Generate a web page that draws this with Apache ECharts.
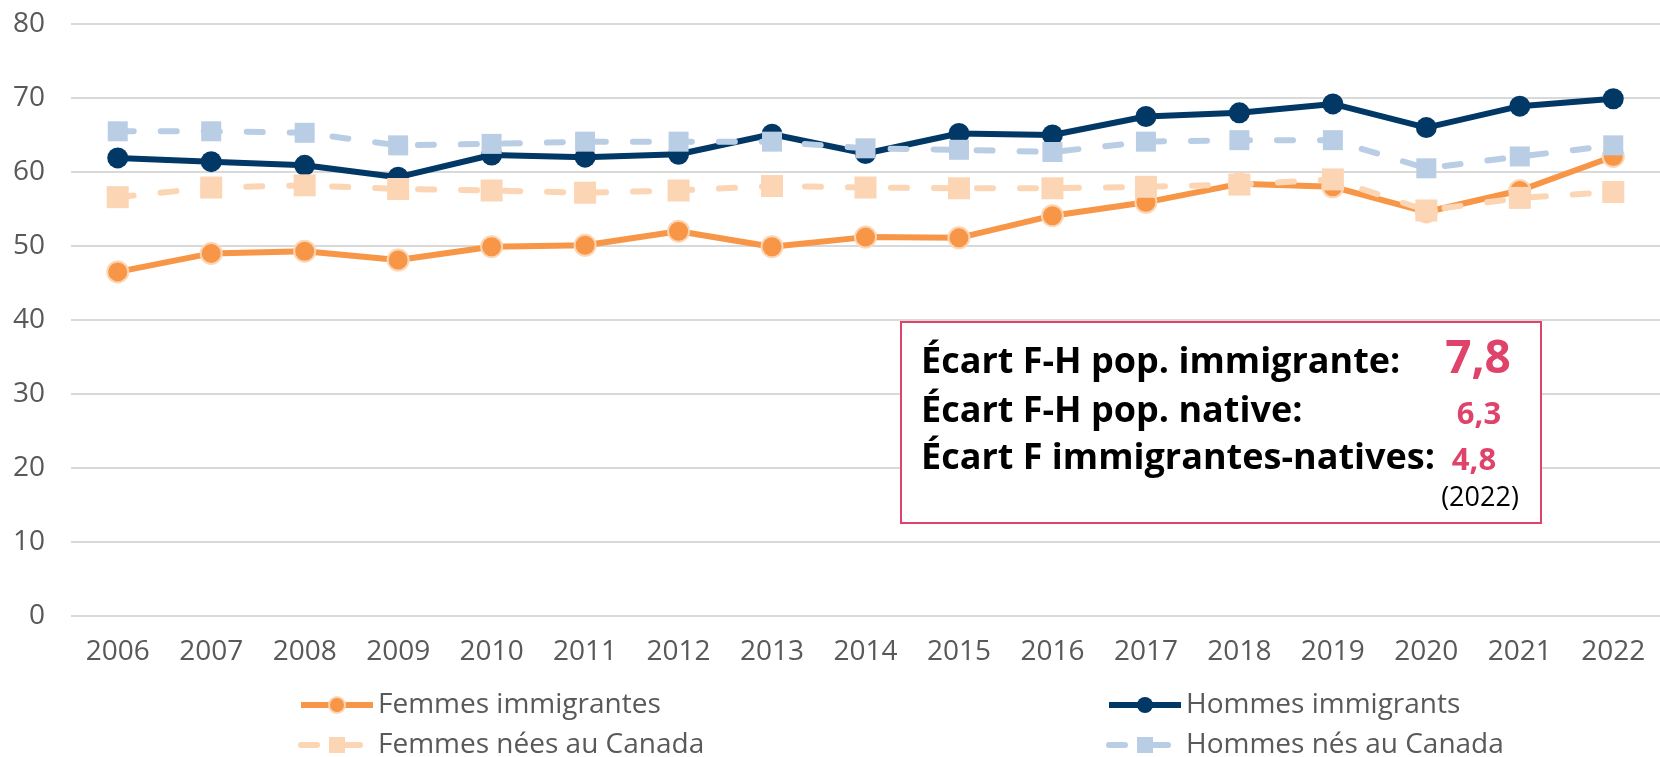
<!DOCTYPE html>
<html>
<head>
<meta charset="utf-8">
<script src="https://cdn.jsdelivr.net/npm/echarts@6/dist/echarts.min.js"></script>
<style>
  html, body { margin: 0; padding: 0; background: #fff; }
  #chart { width: 1660px; height: 757px; }
</style>
</head>
<body>
<div id="chart"></div>
<script>
// données
const years = ['2006', '2007', '2008', '2009', '2010', '2011', '2012', '2013', '2014',
  '2015', '2016', '2017', '2018', '2019', '2020', '2021', '2022'];
const femmesImmigrantes = [46.5, 49.0, 49.3, 48.1, 49.9, 50.1, 52.0, 49.9, 51.2, 51.1, 54.1, 55.9, 58.4, 58.0, 54.6, 57.5, 62.1];
const hommesImmigrants = [61.9, 61.4, 60.9, 59.3, 62.3, 62.0, 62.4, 65.1, 62.5, 65.2, 65.0, 67.5, 68.0, 69.2, 66.0, 68.9, 69.9];
const femmesNees = [56.6, 57.9, 58.2, 57.7, 57.5, 57.2, 57.5, 58.1, 57.9, 57.8, 57.8, 58.0, 58.3, 59.0, 54.8, 56.5, 57.3];
const hommesNes = [65.5, 65.5, 65.3, 63.6, 63.8, 64.1, 64.1, 64.1, 63.2, 63.0, 62.7, 64.1, 64.3, 64.3, 60.5, 62.1, 63.6];

const FONT = '"Open Sans", sans-serif';
const RED = '#E0436A';

// écarts pour la dernière année
const last = years.length - 1;
const fmt = v => Math.abs(v).toFixed(1).replace('.', ',');
const ecartImm = fmt(hommesImmigrants[last] - femmesImmigrantes[last]);
const ecartNat = fmt(hommesNes[last] - femmesNees[last]);
const ecartF = fmt(femmesImmigrantes[last] - femmesNees[last]);

const chart = echarts.init(document.getElementById('chart'));

const dash = [16, 27];

const legendBase = {
  orient: 'vertical',
  top: 685,
  height: 90,
  itemWidth: 72,
  itemHeight: 20,
  itemGap: 10,
  lineStyle: { width: 6 },
  textStyle: { color: '#595959', fontSize: 28, fontFamily: FONT, lineHeight: 30 }
};

const boxText = (x, y, text, size, color, bold, align) => ({
  type: 'text',
  z: 101,
  style: {
    x, y, text,
    fill: color,
    fontSize: size,
    fontWeight: bold ? 'bold' : 'normal',
    fontFamily: FONT,
    align: align || 'left',
    verticalAlign: 'middle'
  }
});

const option = {
  animation: false,
  grid: { left: 71, top: 24, width: 1600, bottom: 141 },
  xAxis: {
    type: 'category',
    data: years,
    axisLine: { show: false },
    axisTick: { show: false },
    axisLabel: { color: '#595959', fontSize: 28, fontFamily: FONT, margin: 22 }
  },
  yAxis: {
    type: 'value',
    min: 0,
    max: 80,
    interval: 10,
    axisLine: { show: false },
    axisTick: { show: false },
    axisLabel: { color: '#595959', fontSize: 28, fontFamily: FONT, margin: 26 },
    splitLine: { lineStyle: { color: '#D9D9D9', width: 2 } }
  },
  legend: [
    Object.assign({}, legendBase, { left: 293, data: ['Femmes immigrantes', 'Femmes nées au Canada'] }),
    Object.assign({}, legendBase, { left: 1101, data: ['Hommes immigrants', 'Hommes nés au Canada'] })
  ],
  series: [
    {
      name: 'Femmes immigrantes',
      type: 'line',
      data: femmesImmigrantes,
      symbol: 'circle',
      symbolSize: 21,
      lineStyle: { color: '#F79646', width: 6 },
      itemStyle: { color: '#F79646', borderColor: '#FCD5B4', borderWidth: 2 }
    },
    {
      name: 'Hommes immigrants',
      type: 'line',
      data: hommesImmigrants,
      symbol: 'circle',
      symbolSize: 21,
      lineStyle: { color: '#023866', width: 6 },
      itemStyle: { color: '#023866' }
    },
    {
      name: 'Femmes nées au Canada',
      type: 'line',
      data: femmesNees,
      symbol: 'rect',
      symbolSize: 22,
      lineStyle: { color: '#FCD5B4', width: 6, type: dash, cap: 'round' },
      itemStyle: { color: '#FCD5B4' }
    },
    {
      name: 'Hommes nés au Canada',
      type: 'line',
      data: hommesNes,
      symbol: 'rect',
      symbolSize: 20,
      lineStyle: { color: '#B9CDE5', width: 6, type: dash, cap: 'round' },
      itemStyle: { color: '#B9CDE5' }
    }
  ],
  graphic: [
    {
      type: 'rect',
      z: 100,
      shape: { x: 901, y: 322, width: 640, height: 201 },
      style: { fill: '#fff', stroke: RED, lineWidth: 2 }
    },
    boxText(921, 363, 'Écart F-H pop. immigrante:', 36, '#000', true),
    boxText(921, 412, 'Écart F-H pop. native:', 36, '#000', true),
    boxText(921, 459, 'Écart F immigrantes-natives:', 36, '#000', true),
    boxText(1478, 360, ecartImm, 46, RED, true, 'center'),
    boxText(1479, 415, ecartNat, 31, RED, true, 'center'),
    boxText(1474, 461, ecartF, 31, RED, true, 'center'),
    boxText(1480, 498, '(2022)', 27, '#000', false, 'center')
  ]
};

chart.setOption(option);
window.addEventListener('resize', () => chart.resize());
</script>
</body>
</html>
